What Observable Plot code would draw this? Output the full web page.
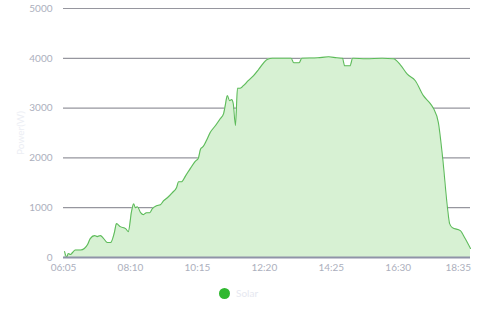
<!DOCTYPE html>
<html>
<head>
<meta charset="utf-8">
<script src="https://cdn.jsdelivr.net/npm/d3@7"></script>
<script src="https://cdn.jsdelivr.net/npm/@observablehq/plot@0.6"></script>
<style>
  body { margin: 0; background: #fff; font-family: Lato, "Open Sans", sans-serif; }
  #wrap { position: relative; width: 480px; height: 320px; }
  #legend { position: absolute; top: 287px; left: 219px; display: flex; align-items: center; font-size: 10px; color: #e6e8f0; }
  #legend .dot { width: 11px; height: 11px; border-radius: 50%; background: #2fb82f; margin-right: 6px; }
</style>
</head>
<body>
<div id="wrap"><div id="chart"></div><div id="legend"><span class="dot"></span><span>Solar</span></div></div>
<script>
const times = ["06:07","06:11","06:14","06:18","06:22","06:27","06:37","06:44","06:50","06:55","07:03","07:08","07:14","07:20","07:27","07:33","07:40","07:44","07:51","08:01","08:06","08:12","08:16","08:19","08:23","08:29","08:34","08:40","08:46","08:51","08:59","09:06","09:12","09:19","09:28","09:36","09:40","09:45","09:53","10:02","10:11","10:17","10:21","10:26","10:32","10:39","10:49","10:58","11:04","11:07","11:11","11:15","11:19","11:22","11:26","11:30","11:35","11:41","11:50","12:00","12:09","12:18","12:26","12:35","12:50","13:10","13:15","13:25","13:30","14:00","14:20","14:35","14:46","14:50","15:00","15:05","15:30","16:00","16:21","16:34","16:47","17:02","17:17","17:30","17:36","17:45","17:53","18:02","18:06","18:11","18:26","18:35","18:45"];
const power = [120,10,80,60,100,150,150,180,260,380,440,420,440,380,300,300,500,680,620,580,520,920,1080,1000,1020,900,860,900,900,980,1040,1060,1140,1200,1300,1400,1520,1520,1640,1790,1930,2000,2180,2230,2350,2510,2650,2790,2890,3050,3250,3150,3170,3090,2650,3400,3400,3450,3550,3650,3770,3900,3980,4000,4000,4000,3910,3910,4000,4010,4030,4010,4000,3850,3850,4000,3990,4000,3990,3870,3680,3550,3250,3090,2990,2710,2000,1000,680,600,540,380,180];
const xTicks = ["06:05","08:10","10:15","12:20","14:25","16:30","18:35"];
const yTicks = [0,1000,2000,3000,4000,5000];
const xStart = "06:05", xEnd = "18:45";

const toMin = s => { const [h, m] = s.split(":").map(Number); return h * 60 + m; };
const fmt = m => String(Math.floor(m / 60)).padStart(2, "0") + ":" + String(m % 60).padStart(2, "0");
const data = times.map((t, i) => ({t: toMin(t), v: power[i]}));
const tickMins = xTicks.map(toMin);

const chart = Plot.plot({
  width: 480,
  height: 282,
  marginLeft: 63,
  marginRight: 10,
  marginTop: 8,
  marginBottom: 25,
  style: {fontFamily: "Lato, 'Open Sans', sans-serif", fontSize: "10px", background: "transparent"},
  x: {domain: [toMin(xStart), toMin(xEnd)]},
  y: {domain: [0, 5000]},
  marks: [
    Plot.ruleY(yTicks.filter(d => d > 0), {stroke: "#96969e", strokeWidth: 1.2}),
    Plot.areaY(data, {x: "t", y: "v", fill: "#d7f1d3", curve: "monotone-x"}),
    Plot.lineY(data, {x: "t", y: "v", stroke: "#5dbb5a", strokeWidth: 1.1, curve: "monotone-x"}),
    Plot.ruleY([0], {stroke: "#8f94a8", strokeWidth: 2}),
    Plot.axisY({ticks: yTicks, tickFormat: d => String(d), tickSize: 0, tickPadding: 11, color: "#acafbd", label: "Power(W)", labelAnchor: "center", labelArrow: "none", labelOffset: 47}),
    Plot.axisX({ticks: tickMins.slice(0, -1), tickFormat: fmt, tickSize: 0, tickPadding: 6, color: "#acafbd", label: null}),
    Plot.axisX({ticks: tickMins.slice(-1), tickFormat: fmt, tickSize: 0, tickPadding: 6, color: "#acafbd", label: null, textAnchor: "end", dx: 6})
  ]
});
chart.querySelectorAll("[aria-label='y-axis label'] text, [aria-label='y-axis label']").forEach(e => e.setAttribute("fill", "#eceef4"));
document.getElementById("chart").appendChild(chart);
</script>
</body>
</html>
